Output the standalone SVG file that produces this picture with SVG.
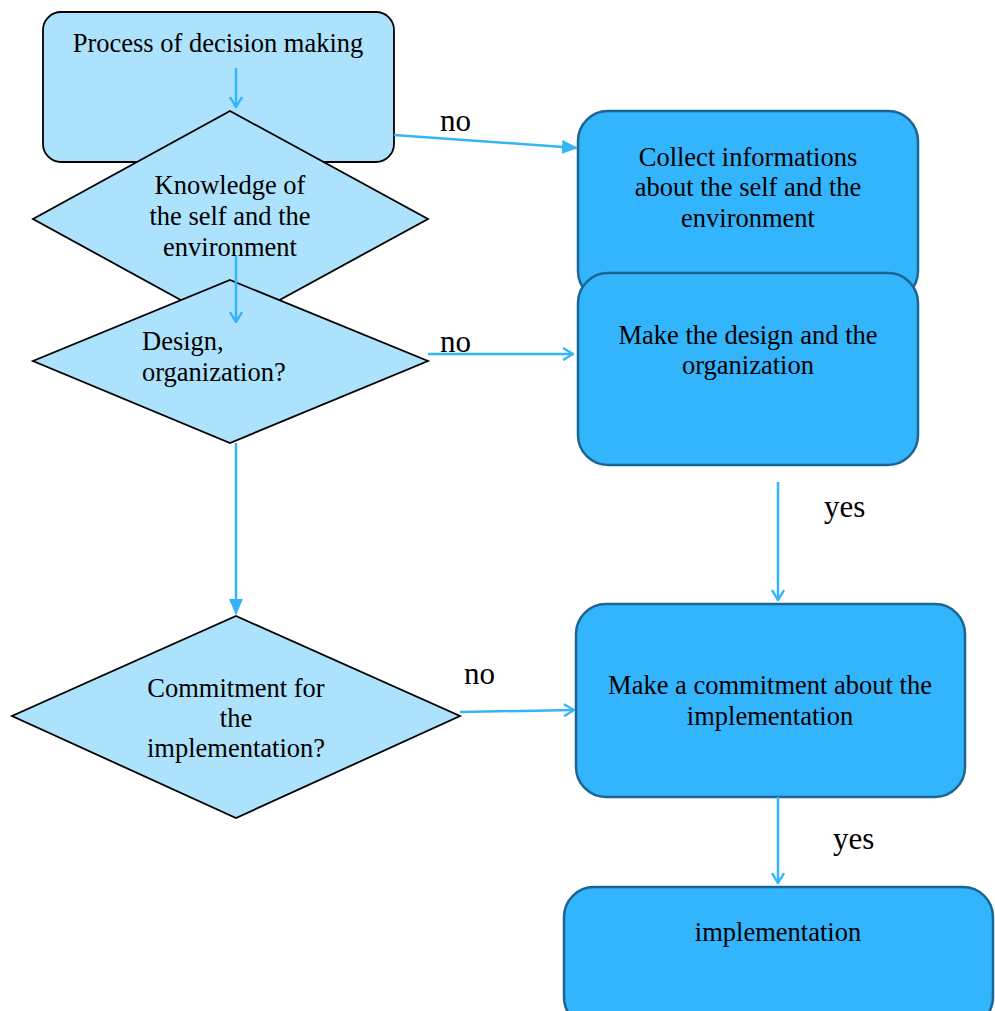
<svg xmlns="http://www.w3.org/2000/svg" width="995" height="1011" viewBox="0 0 995 1011">
<style>
.lt{fill:#ade2fc;stroke:#000;stroke-width:1.8}
.dk{fill:#33b5fd;stroke:#1b6592;stroke-width:2.5}
.t{font-family:"Liberation Serif",serif;font-size:26.5px;fill:#000;text-anchor:middle}
.lb{font-family:"Liberation Serif",serif;font-size:31px;fill:#000}
.c{fill:none;stroke:#33b5f7;stroke-width:2.5}
</style>
<defs>
<marker id="open" viewBox="0 0 12 14" refX="11" refY="7" markerWidth="12" markerHeight="14" markerUnits="userSpaceOnUse" orient="auto">
<path d="M1,1 L11,7 L1,13" fill="none" stroke="#33b5f7" stroke-width="2.4"/>
</marker>
<marker id="fill" viewBox="0 0 16 14" refX="15" refY="7" markerWidth="16" markerHeight="14" markerUnits="userSpaceOnUse" orient="auto">
<path d="M0,0 L16,7 L0,14 Z" fill="#33b5f7"/>
</marker>
</defs>
<g id="n-process"><rect class="lt" x="43" y="12" width="351" height="150" rx="18"/>
<text class="t" x="218" y="52">Process of decision making</text></g>
<g id="n-knowledge"><polygon class="lt" points="230,111 428,219 230,327 33,219"/>
<text class="t" x="230" y="194">Knowledge of</text><text class="t" x="230" y="225">the self and the</text><text class="t" x="230" y="256">environment</text></g>
<g id="n-design"><polygon class="lt" points="230,280 428,361 230,443 33,361"/>
<text class="t" x="142" y="350" style="text-anchor:start">Design,</text><text class="t" x="142" y="381" style="text-anchor:start">organization?</text></g>
<g id="n-commit"><polygon class="lt" points="236,616 460,716 236,818 12,716"/>
<text class="t" x="236" y="697">Commitment for</text><text class="t" x="236" y="727">the</text><text class="t" x="236" y="757">implementation?</text></g>
<g id="n-collect"><rect class="dk" x="578" y="111" width="340" height="190" rx="30"/>
<text class="t" x="748" y="166">Collect informations</text><text class="t" x="748" y="196">about the self and the</text><text class="t" x="748" y="227">environment</text></g>
<g id="n-makedesign"><rect class="dk" x="578" y="273" width="340" height="192" rx="30"/>
<text class="t" x="748" y="344">Make the design and the</text><text class="t" x="748" y="374">organization</text></g>
<g id="n-makecommit"><rect class="dk" x="576" y="604" width="389" height="193" rx="30"/>
<text class="t" x="770" y="694">Make a commitment about the</text><text class="t" x="770" y="725">implementation</text></g>
<g id="n-impl"><rect class="dk" x="564" y="887" width="429" height="140" rx="30"/>
<text class="t" x="778" y="941">implementation</text></g>
<g id="connectors">
<path class="c" d="M236,68 L236,107" marker-end="url(#open)"/>
<path class="c" d="M236,256 L236,322" marker-end="url(#open)"/>
<path class="c" d="M394,135 L577,148" marker-end="url(#fill)"/>
<path class="c" d="M428,354 L573,354" marker-end="url(#open)"/>
<path class="c" d="M236,443 L236,614" marker-end="url(#fill)"/>
<path class="c" d="M460,712 L574,710" marker-end="url(#open)"/>
<path class="c" d="M778,482 L778,600" marker-end="url(#open)"/>
<path class="c" d="M778,797 L778,883" marker-end="url(#open)"/>
<text class="lb" x="440" y="131">no</text>
<text class="lb" x="440" y="352">no</text>
<text class="lb" x="464" y="684">no</text>
<text class="lb" x="824" y="517">yes</text>
<text class="lb" x="833" y="849">yes</text>
</g>
</svg>
